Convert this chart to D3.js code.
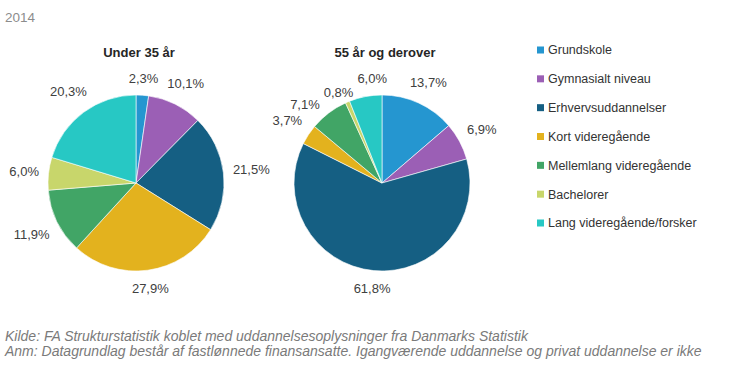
<!DOCTYPE html>
<html>
<head>
<meta charset="utf-8">
<script src="https://cdn.jsdelivr.net/npm/d3@7"></script>
<style>
  body { margin: 0; background: #fff; }
  svg { display: block; font-family: "Liberation Sans", Arial, sans-serif; }
</style>
</head>
<body>
<div id="chart-container"></div>
<script>
const categories = [
    "Grundskole",
    "Gymnasialt niveau",
    "Erhvervsuddannelser",
    "Kort videregående",
    "Mellemlang videregående",
    "Bachelorer",
    "Lang videregående/forsker"
];
const colors = ["#2596d0", "#9b5fb5", "#155f83", "#e3b21e", "#41a566", "#c8d66b", "#27c8c4"];
const under35 = [2.3, 10.1, 21.5, 27.9, 11.9, 6.0, 20.3];
const over55 = [13.7, 6.9, 61.8, 3.7, 7.1, 0.8, 6.0];
const pieTitles = ["Under 35 år", "55 år og derover"];
const footnotes = [
    "Kilde: FA Strukturstatistik koblet med uddannelsesoplysninger fra Danmarks Statistik",
    "Anm: Datagrundlag består af fastlønnede finansansatte. Igangværende uddannelse og privat uddannelse er ikke"
];

const W = 730, H = 365;
const radius = 88;
const pieCenters = [{x: 136, y: 183}, {x: 382, y: 183}];

const svg = d3.select("#chart-container").append("svg")
    .attr("width", W).attr("height", H);

svg.append("text")
    .attr("x", 5).attr("y", 22)
    .style("font-size", "13.5px").style("fill", "#8c8c8c")
    .text("2014");

const fmt = v => v.toFixed(1).replace(".", ",") + "%";
const color = d3.scaleOrdinal().domain(categories).range(colors);
const pie = d3.pie().sort(null).value(d => d.value);
const arc = d3.arc().innerRadius(0).outerRadius(radius);

function drawPie(values, title, c) {
    const g = svg.append("g").attr("transform", `translate(${c.x},${c.y})`);
    const data = pie(values.map((v, i) => ({cat: categories[i], value: v})));

    g.append("text")
        .attr("x", 3).attr("y", -radius - 38)
        .attr("text-anchor", "middle")
        .style("font-size", "13px").style("font-weight", "bold").style("fill", "#262626")
        .text(title);

    g.selectAll("path.slice")
        .data(data)
        .enter().append("path")
        .attr("class", "slice")
        .attr("d", arc)
        .style("fill", d => color(d.data.cat))
        .style("stroke", "#fff")
        .style("stroke-width", 0.6);

    // label box placed just outside the rim along the mid angle
    const labels = g.selectAll("text.lbl")
        .data(data)
        .enter().append("text")
        .attr("class", "lbl")
        .attr("text-anchor", "middle")
        .attr("dy", "0.35em")
        .style("font-size", "13px").style("fill", "#404040")
        .text(d => fmt(d.data.value));

    const boxes = [];
    labels.each(function(d) {
        const w = this.getComputedTextLength();
        const a = (d.startAngle + d.endAngle) / 2;
        const ux = Math.sin(a), uy = -Math.cos(a);
        const ext = (w / 2) * Math.abs(ux) + 7 * Math.abs(uy);
        const dist = radius + 9 + ext;
        boxes.push({node: this, x: ux * dist, y: uy * dist, w: w, h: 14});
    });

    // push overlapping neighbours apart sideways
    for (let pass = 0; pass < 5; pass++) {
        for (let i = 0; i < boxes.length; i++) {
            const a = boxes[i], b = boxes[(i + 1) % boxes.length];
            const ox = (a.w + b.w) / 2 + 4 - Math.abs(a.x - b.x);
            const oy = (a.h + b.h) / 2 - Math.abs(a.y - b.y);
            if (ox > 0 && oy > 0) {
                const s = a.x < b.x ? -1 : 1;
                a.x += s * ox / 2; b.x -= s * ox / 2;
                a.y += 2; 
            }
        }
    }
    boxes.forEach(b => d3.select(b.node).attr("x", b.x).attr("y", b.y));
}

drawPie(under35, pieTitles[0], pieCenters[0]);
drawPie(over55, pieTitles[1], pieCenters[1]);

// legend
const legendY = d3.scalePoint().domain(categories).range([50, 223]);
const legend = svg.append("g").attr("class", "legend");
const items = legend.selectAll("g")
    .data(categories)
    .enter().append("g")
    .attr("transform", d => `translate(537,${legendY(d)})`);
items.append("rect")
    .attr("x", 0).attr("y", -3.5)
    .attr("width", 7).attr("height", 7)
    .style("fill", d => color(d));
items.append("text")
    .attr("x", 11).attr("dy", "0.35em")
    .style("font-size", "12.5px").style("fill", "#333")
    .text(d => d);

// footnotes
svg.selectAll("text.foot")
    .data(footnotes)
    .enter().append("text")
    .attr("class", "foot")
    .attr("x", 5).attr("y", (d, i) => 341 + i * 15)
    .style("font-size", "14px").style("font-style", "italic").style("fill", "#7a7a7a")
    .text(d => d);
</script>
</body>
</html>
